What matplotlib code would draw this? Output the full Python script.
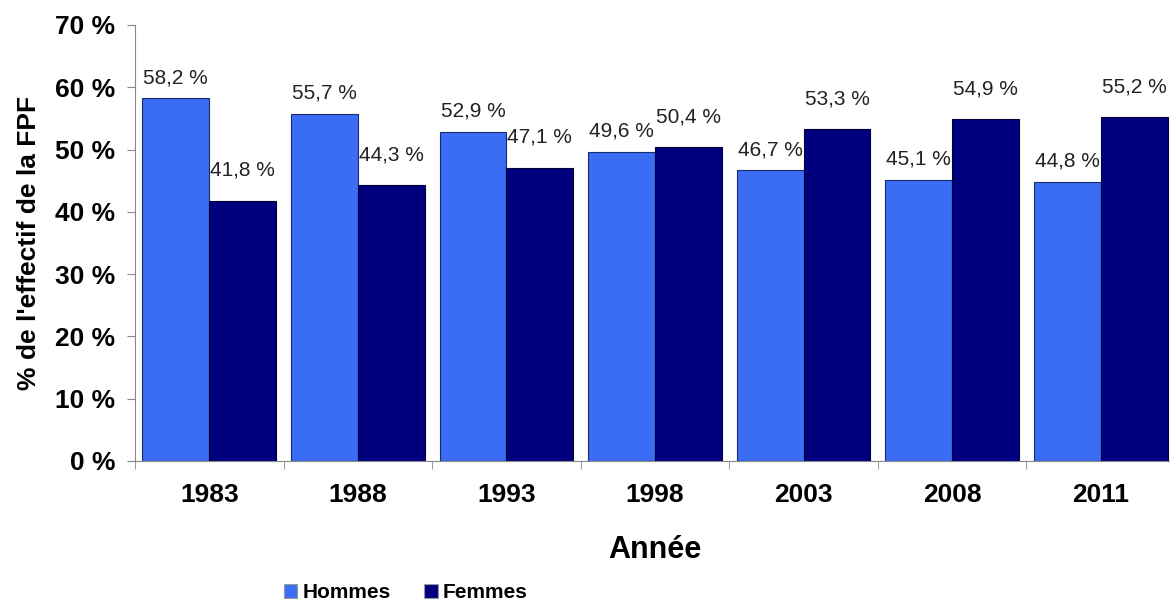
import matplotlib.pyplot as plt
import numpy as np

plt.rcParams['font.family'] = ['Liberation Sans', 'DejaVu Sans']
plt.rcParams['font.weight'] = 'bold'

annees = ['1983', '1988', '1993', '1998', '2003', '2008', '2011']
hommes = [58.2, 55.7, 52.9, 49.6, 46.7, 45.1, 44.8]
femmes = [41.8, 44.3, 47.1, 50.4, 53.3, 54.9, 55.2]

col_h = '#3a6cf4'
col_f = '#00007f'

fig = plt.figure(figsize=(11.7, 6.03), dpi=100)
ax = fig.add_axes([135 / 1170, 1 - 461 / 603, 1040 / 1170, 436 / 603])

x = np.arange(len(annees))
w = 0.45
bh = ax.bar(x - w / 2, hommes, w, color=col_h, edgecolor='#1a2a70', linewidth=0.8, label='Hommes')
bf = ax.bar(x + w / 2, femmes, w, color=col_f, edgecolor='#00003a', linewidth=0.8, label='Femmes')

def fmt(v):
    return f"{v:.1f}".replace('.', ',') + ' %'

for xi, v in zip(x, hommes):
    ax.annotate(fmt(v), (xi - w / 2, v), xytext=(0, 8), textcoords='offset points',
                ha='center', va='bottom', fontsize=15, fontweight='normal', color='#222222')
for xi, v in zip(x, femmes):
    ax.annotate(fmt(v), (xi + w / 2, v), xytext=(0, 15), textcoords='offset points',
                ha='center', va='bottom', fontsize=15, fontweight='normal', color='#222222')

ax.set_xlim(-0.5, 6.5)
ax.set_ylim(0, 70)
ax.set_yticks(range(0, 71, 10))
ax.set_yticklabels([f"{t} %" for t in range(0, 71, 10)], fontsize=19)
ax.set_xticks(x)
ax.set_xticklabels(annees, fontsize=19)
ax.set_xticks(np.arange(-0.5, 7, 1), minor=True)
ax.tick_params(axis='x', which='major', length=0, pad=16)
ax.tick_params(axis='x', which='minor', length=6, color='#888888', direction='out')
ax.tick_params(axis='y', length=6, color='#888888', pad=8)

for s in ['top', 'right']:
    ax.spines[s].set_visible(False)
for s in ['left', 'bottom']:
    ax.spines[s].set_color('#888888')

ax.set_xlabel('Année', fontsize=22, fontweight='bold', labelpad=20)
ax.set_ylabel("% de l'effectif de la FPF", fontsize=19, fontweight='bold', labelpad=10)

leg = fig.legend(handles=[bh, bf], loc='lower left', bbox_to_anchor=(265 / 1170, -0.03),
                 ncol=2, frameon=False, fontsize=15, handlelength=0.65, handleheight=0.65,
                 handletextpad=0.25, columnspacing=1.6)
for h in leg.legend_handles:
    h.set_edgecolor('#999999')

fig.savefig('out.png', dpi=100)
